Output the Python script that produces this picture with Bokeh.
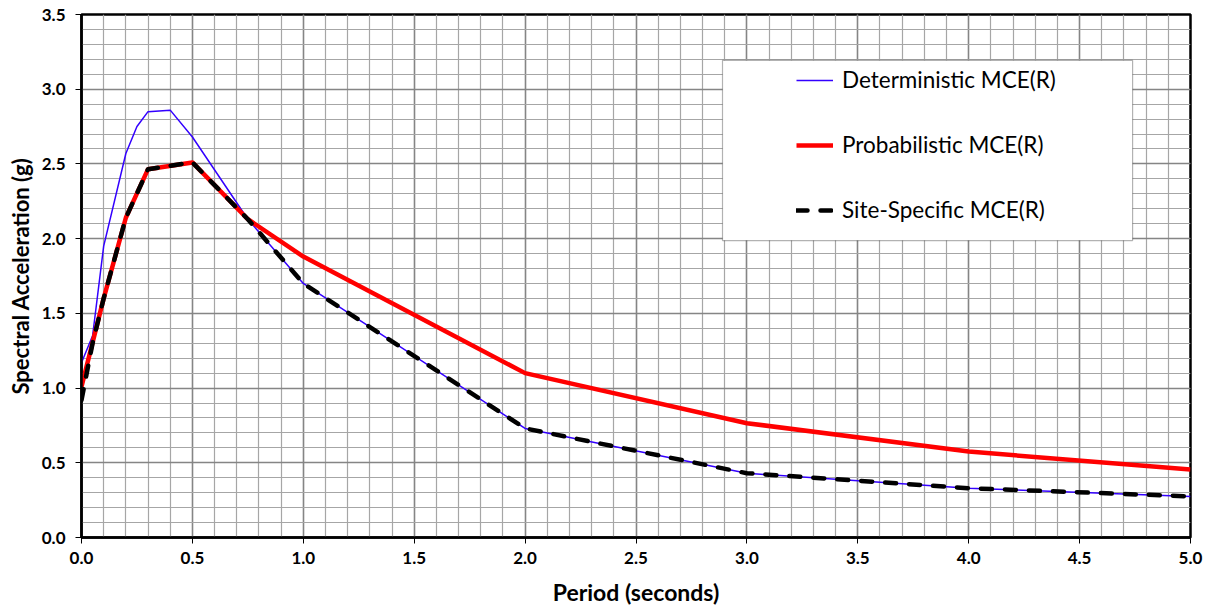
from bokeh.plotting import figure
from bokeh.models import (Legend, LegendItem, BoxAnnotation, SingleIntervalTicker,
                          PrintfTickFormatter, Range1d)
from bokeh.embed import file_html
from bokeh.resources import INLINE

# ---- data ----
period_det = [0.0, 0.05, 0.1, 0.2, 0.25, 0.3, 0.4, 0.5, 0.75, 1.0, 2.0, 3.0, 4.0, 5.0]
sa_det = [1.17, 1.35, 1.95, 2.57, 2.75, 2.85, 2.86, 2.68, 2.13, 1.70, 0.73, 0.43, 0.33, 0.275]

period_prob = [0.0, 0.1, 0.2, 0.3, 0.5, 0.75, 1.0, 2.0, 3.0, 4.0, 5.0]
sa_prob = [1.01, 1.60, 2.14, 2.465, 2.51, 2.13, 1.88, 1.10, 0.765, 0.575, 0.455]

period_site = [0.0, 0.05, 0.1, 0.2, 0.3, 0.5, 0.75, 1.0, 2.0, 3.0, 4.0, 5.0]
sa_site = [0.92, 1.30, 1.60, 2.14, 2.465, 2.51, 2.13, 1.70, 0.73, 0.43, 0.33, 0.275]

series_names = ["Deterministic MCE(R)", "Probabilistic MCE(R)", "Site-Specific MCE(R)"]

FONT = "Lato"

p = figure(width=1208, height=608, output_backend="svg", toolbar_location=None,
           x_range=Range1d(0, 5), y_range=Range1d(0, 3.5),
           min_border_left=81, min_border_right=18, min_border_top=14, min_border_bottom=70)
p.background_fill_color = "white"
p.border_fill_color = "white"
p.outline_line_color = "black"
p.outline_line_width = 2.5

# axes
p.xaxis.ticker = SingleIntervalTicker(interval=0.5, num_minor_ticks=5)
p.yaxis.ticker = SingleIntervalTicker(interval=0.5, num_minor_ticks=5)
for ax in (p.xaxis, p.yaxis):
    ax.formatter = PrintfTickFormatter(format="%.1f")
    ax.axis_line_color = "black"
    ax.axis_line_width = 2.5
    ax.major_tick_line_color = "black"
    ax.major_tick_line_width = 1
    ax.major_tick_out = 6
    ax.major_tick_in = 0
    ax.minor_tick_out = 0
    ax.minor_tick_in = 0
    ax.major_label_text_font = FONT
    ax.major_label_text_font_style = "bold"
    ax.major_label_text_font_size = "17px"
    ax.major_label_text_color = "black"
    ax.axis_label_text_font = FONT
    ax.axis_label_text_font_style = "bold"
    ax.axis_label_text_color = "black"

p.xaxis.axis_label = "Period (seconds)"
p.yaxis.axis_label = "Spectral Acceleration (g)"
p.xaxis.axis_label_text_font_size = "23px"
p.yaxis.axis_label_text_font_size = "22px"
p.xaxis.major_label_standoff = 8
p.yaxis.major_label_standoff = 10
p.xaxis.axis_label_standoff = 11
p.yaxis.axis_label_standoff = 5

# grids
for g in (p.xgrid, p.ygrid):
    g.grid_line_color = "#858585"
    g.grid_line_width = 1.5
    g.grid_line_alpha = 1
    g.minor_grid_line_color = "#A6A6A6"
    g.minor_grid_line_width = 1.2

# lines
r_det = p.line(period_det, sa_det, line_color="#3300FF", line_width=1.5)
r_prob = p.line(period_prob, sa_prob, line_color="#FF0000", line_width=4.5, line_join="round")
r_site = p.line(period_site, sa_site, line_color="black", line_width=4.5, line_dash="11 13",
                line_cap="round", line_join="round")

# legend box
box = BoxAnnotation(left=2.89, right=4.739, bottom=1.987, top=3.193,
                    fill_color="white", fill_alpha=1,
                    line_color="black", line_width=1.2, level="annotation")
p.add_layout(box)

legend = Legend(items=[LegendItem(label=series_names[0], renderers=[r_det]),
                       LegendItem(label=series_names[1], renderers=[r_prob]),
                       LegendItem(label=series_names[2], renderers=[r_site])],
                location=(715, 314), padding=0, margin=0, spacing=38,
                label_height=24, glyph_height=24, glyph_width=37, label_standoff=9,
                label_text_font=FONT, label_text_font_size="22.5px", label_text_color="black",
                border_line_alpha=0, background_fill_alpha=0)
p.add_layout(legend)

open("out.html", "w").write(file_html(p, INLINE))
